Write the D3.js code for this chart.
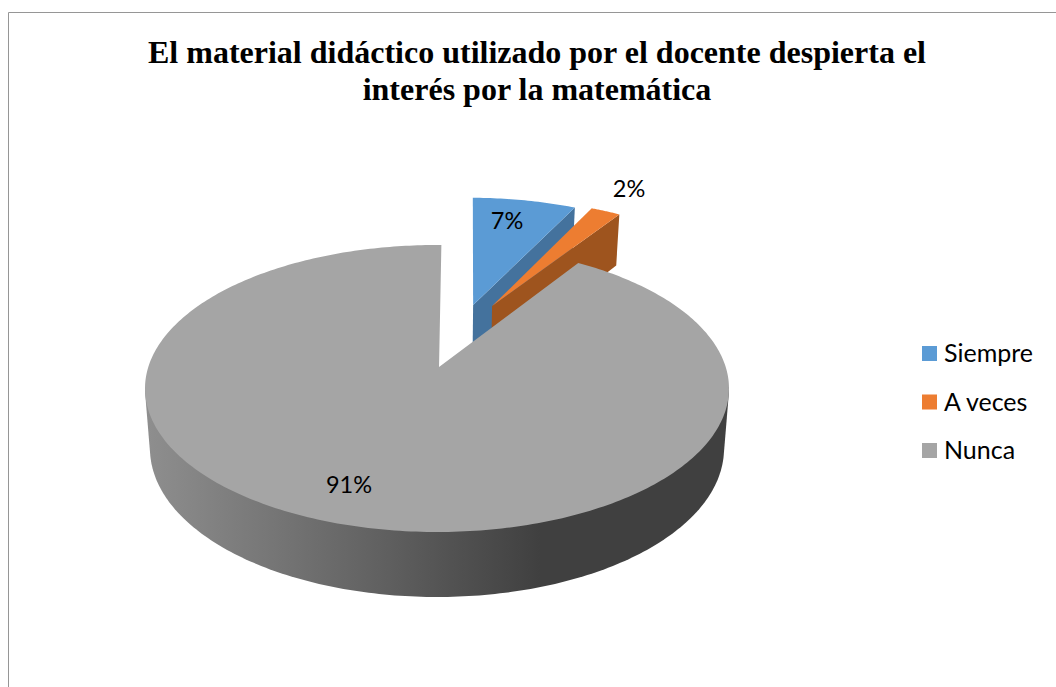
<!DOCTYPE html>
<html lang="es">
<head>
<meta charset="utf-8">
<title>Material didáctico</title>
<script src="https://d3js.org/d3.v7.min.js"></script>
<style>
  html, body { margin: 0; padding: 0; background: #fff; }
  svg { display: block; }
</style>
</head>
<body>
<div id="chart"></div>
<script>
// Survey answers, in percent
const categories = ["Siempre", "A veces", "Nunca"];
const values = [7, 2, 91];
const titleLines = [
  "El material didáctico utilizado por el docente despierta el",
  "interés por la matemática"
];

const width = 1056, height = 687;
const topColors = ["#5b9bd5", "#ed7d31", "#a5a5a5"];
const sideColors = ["#44729d", "#9e541e", "#777777"];

// Perspective of the pie's disc: unit-disc coordinates to the screen
const view = { cx: 437, cy: 367, kx: 288.7, ky: -85.3, p: 0.1498, rotation: 1 };
// Shift of each slice on the disc, as [across, into the page]
const sliceOffset = [[0.134, 0.473], [0.204, 0.465], [0.007, 0]];
const labelAt = [[507, 221], [629, 189], [349, 485]];

const project = (X, Y) => {
  const w = 1 + view.p * Y;
  return [view.cx + view.kx * X / w, (view.cy + view.ky * Y) / w];
};
// The same disc point on the underside of the extruded pie
const projectLow = (X, Y) => {
  const [x, y] = project(X, Y);
  return [view.cx + (x - view.cx) * 0.983, y + 59 - 6 * Y];
};

const rimPoint = (fn, a, off) => fn(Math.sin(a) + off[0], Math.cos(a) + off[1]);
const rimPoints = (fn, a0, a1, off, n = 120) =>
  d3.range(n + 1).map(i => rimPoint(fn, a0 + (a1 - a0) * i / n, off));

const line = d3.line();
const closed = pts => line(pts) + "Z";

const pie = d3.pie().sort(null).startAngle(view.rotation * Math.PI / 180)
  .endAngle((360 + view.rotation) * Math.PI / 180);
const slices = pie(values);

const svg = d3.select("#chart").append("svg")
  .attr("width", width).attr("height", height);

// Front wall shading of the large slice
const shade = svg.append("defs").append("linearGradient")
  .attr("id", "wall").attr("gradientUnits", "userSpaceOnUse")
  .attr("x1", 148).attr("x2", 540).attr("y1", 0).attr("y2", 0);
shade.append("stop").attr("offset", 0).attr("stop-color", "#8e8e8e");
shade.append("stop").attr("offset", 0.5).attr("stop-color", "#686868");
shade.append("stop").attr("offset", 1).attr("stop-color", "#404040");

svg.append("rect").attr("width", width).attr("height", height).attr("fill", "#fff");

// Chart frame, open on the right and at the bottom
svg.append("path")
  .attr("d", d3.line()([[8.5, height], [8.5, 12.5], [width, 12.5]]))
  .attr("fill", "none").attr("stroke", "#969696").attr("stroke-width", 1);

// Title
svg.append("g").selectAll("text").data(titleLines).join("text")
  .attr("x", 537).attr("y", (d, i) => 63 + i * 37)
  .attr("text-anchor", "middle")
  .attr("font-family", "'Liberation Serif', serif")
  .attr("font-weight", "bold").attr("font-size", 32).attr("fill", "#000")
  .text(d => d);

const pieG = svg.append("g");

// Exploded small slices: cut face first, top surface above it
[0, 1].forEach(i => {
  const s = slices[i], off = sliceOffset[i];
  const apexTop = project(off[0], off[1]);
  const apexLow = projectLow(off[0], off[1]);
  const edgeTop = rimPoint(project, s.endAngle, off);
  const edgeLow = rimPoint(projectLow, s.endAngle, off);
  pieG.append("path").attr("fill", sideColors[i])
    .attr("d", closed([apexTop, edgeTop, edgeLow, apexLow]));
  pieG.append("path").attr("fill", topColors[i])
    .attr("d", closed([apexTop, ...rimPoints(project, s.startAngle, s.endAngle, off, 30)]));
});

// Large slice: shaded outer wall, then its top surface
const big = slices[2], bigOff = sliceOffset[2];
const frontStart = 98 * Math.PI / 180, frontEnd = 262 * Math.PI / 180;
const wallHull = d3.polygonHull([
  ...rimPoints(project, frontStart, frontEnd, [0, 0], 180),
  ...rimPoints(projectLow, frontStart, frontEnd, [0, 0], 180)
]);
pieG.append("path").attr("fill", "url(#wall)").attr("d", closed(wallHull));
pieG.append("path").attr("fill", topColors[2])
  .attr("d", closed([
    project(bigOff[0], bigOff[1]),
    ...rimPoints(project, big.startAngle, big.endAngle, [0, 0], 360)
  ]));

// Percentage labels
const labelFont = "Lato, 'Open Sans', sans-serif";
svg.append("g").selectAll("text").data(values).join("text")
  .attr("x", (d, i) => labelAt[i][0]).attr("y", (d, i) => labelAt[i][1])
  .attr("dy", "0.35em").attr("text-anchor", "middle")
  .attr("font-family", labelFont).attr("font-size", 23.5).attr("fill", "#000")
  .text(d => d + "%");

// Legend
const legendY = d3.scalePoint().domain(categories).range([353.5, 450.5]);
const legend = svg.append("g").selectAll("g").data(categories).join("g")
  .attr("transform", d => `translate(922,${legendY(d)})`);
legend.append("rect").attr("y", -7.5).attr("width", 15).attr("height", 15)
  .attr("fill", (d, i) => topColors[i]);
legend.append("text").attr("x", 22).attr("dy", "0.35em")
  .attr("font-family", labelFont).attr("font-size", 25).attr("fill", "#000")
  .text(d => d);
</script>
</body>
</html>
